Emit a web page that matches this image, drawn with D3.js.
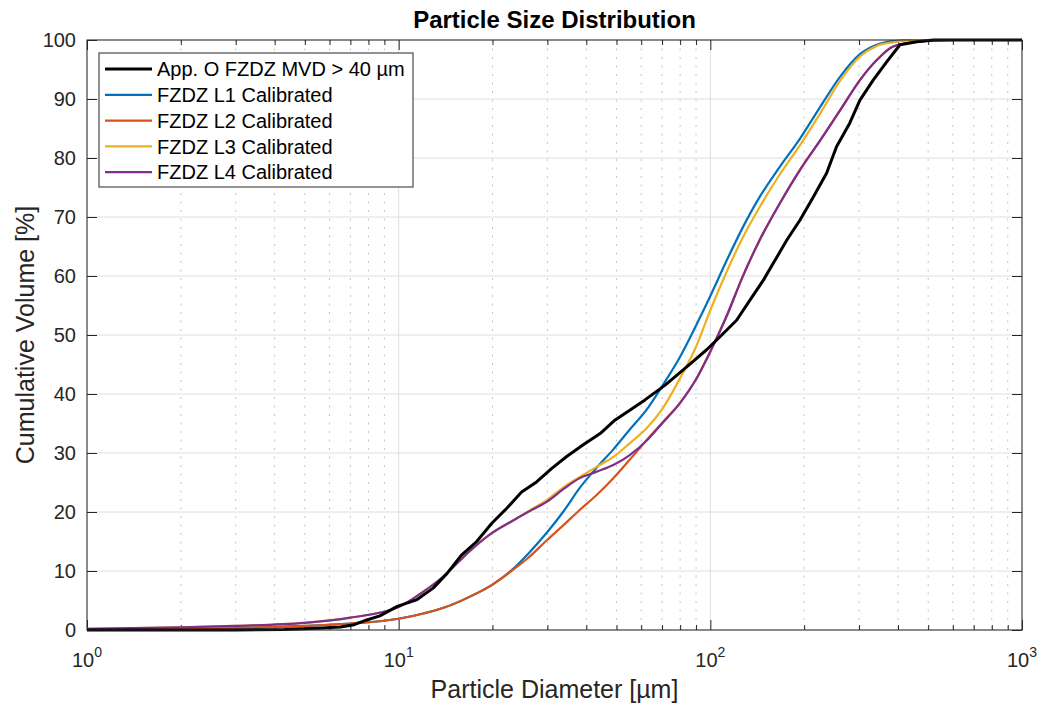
<!DOCTYPE html>
<html>
<head>
<meta charset="utf-8">
<script src="https://cdn.jsdelivr.net/npm/d3@7"></script>
<style>
  body { margin: 0; background: #fff; }
  text { font-family: "Liberation Sans", Arial, Helvetica, sans-serif; fill: #262626; }
</style>
</head>
<body>
<div id="chart"></div>
<script>
// measured curve (App. O) -- diameter [um] and cumulative volume [%]
var appODiam = [1, 3, 4.3, 5.5, 6.5, 7.2, 7.9, 8.7, 9.9, 11.4, 12.9, 14.3, 15.9, 17.8, 19.9, 22.2, 24.8, 27.7, 31.0, 34.6, 39.1, 44.3, 49.5, 55.3, 61.7, 71.6, 84, 97.3, 107.4, 121.4, 134, 148, 159, 176, 194, 214, 236, 254, 280, 302, 333, 368, 406, 460, 520, 1000];
var appOCum = [0, 0, 0.1, 0.3, 0.5, 0.9, 1.7, 2.4, 4.0, 5.1, 7.1, 9.6, 12.7, 15.0, 18.1, 20.6, 23.4, 25.1, 27.4, 29.4, 31.4, 33.3, 35.6, 37.3, 39.0, 41.5, 44.6, 47.5, 49.7, 52.5, 55.9, 59.3, 62.1, 66.1, 69.5, 73.4, 77.4, 81.9, 85.9, 89.8, 93.2, 96.3, 99.2, 99.7, 100, 100];

// calibrated curves share one diameter grid
var calDiam = [1, 2, 3, 5, 7, 10, 12, 14, 17, 20, 23, 26, 30, 34, 38, 43, 49, 55, 63, 70, 80, 90, 100, 113, 127, 144, 167, 194, 226, 261, 302, 342, 386, 460, 600, 1000];
var l1Cum = [0.15, 0.25, 0.4, 0.7, 1.1, 1.9, 2.8, 3.8, 5.7, 7.7, 10.1, 12.9, 16.6, 20.3, 24.0, 27.4, 30.7, 33.9, 37.6, 41.3, 46.3, 51.6, 56.6, 62.7, 68.2, 73.4, 78.5, 83.3, 88.8, 93.8, 97.6, 99.2, 99.8, 100, 100, 100];
var l2Cum = [0.15, 0.25, 0.4, 0.7, 1.1, 1.9, 2.8, 3.8, 5.7, 7.7, 10.0, 12.2, 15.3, 17.9, 20.3, 22.8, 25.8, 28.8, 32.4, 35.1, 38.5, 42.5, 47.2, 53.3, 59.9, 66.1, 72.3, 78.0, 83.1, 88.1, 93.2, 96.6, 98.9, 99.7, 100, 100];
var l3Cum = [0.2, 0.45, 0.7, 1.2, 2.1, 3.9, 6.5, 9.2, 13.5, 16.5, 18.4, 20.1, 22.1, 24.3, 25.9, 27.6, 29.4, 31.6, 34.4, 37.4, 42.7, 48.0, 54.2, 60.8, 66.5, 71.7, 77.2, 82.2, 87.7, 93.1, 97.2, 99.0, 99.6, 100, 100, 100];
var l4Cum = [0.2, 0.45, 0.7, 1.2, 2.1, 3.9, 6.5, 9.2, 13.5, 16.5, 18.4, 20.0, 21.8, 24.0, 25.7, 26.8, 28.0, 29.6, 32.3, 35.0, 38.5, 42.5, 47.2, 53.3, 59.9, 66.1, 72.3, 78.0, 83.1, 88.1, 93.2, 96.6, 98.9, 99.7, 100, 100];

var seriesNames = ["App. O FZDZ MVD > 40 \u00b5m", "FZDZ L1 Calibrated", "FZDZ L2 Calibrated", "FZDZ L3 Calibrated", "FZDZ L4 Calibrated"];
var seriesColors = ["#000000", "#0072BD", "#D95319", "#EDB120", "#7E2F8E"];
var xMajorTicks = [1, 10, 100, 1000];
var xTickExp = ["0", "1", "2", "3"];
var yTicks = [0, 10, 20, 30, 40, 50, 60, 70, 80, 90, 100];

var W = 1046, H = 708;
var margin = { top: 40, right: 24, bottom: 78, left: 87 };
var iW = W - margin.left - margin.right;
var iH = H - margin.top - margin.bottom;
var axisColor = "#262626";

var svg = d3.select("#chart").append("svg")
  .attr("width", W).attr("height", H);
var g = svg.append("g").attr("transform", "translate(" + margin.left + "," + margin.top + ")");

var x = d3.scaleLog().domain([1, 1000]).range([0, iW]);
var y = d3.scaleLinear().domain([0, 100]).range([iH, 0]);

// minor decade values 2..9
var xMinorTicks = [];
[1, 10, 100].forEach(function (d) {
  for (var k = 2; k <= 9; k++) xMinorTicks.push(d * k);
});

// Grid
g.append("g").selectAll("line").data(xMinorTicks).join("line")
  .attr("x1", function (d) { return x(d); }).attr("x2", function (d) { return x(d); })
  .attr("y1", 0).attr("y2", iH)
  .attr("stroke", "#c4c4c4").attr("stroke-width", 1)
  .attr("stroke-dasharray", "2,6.5");
g.append("g").selectAll("line").data(xMajorTicks).join("line")
  .attr("x1", function (d) { return x(d); }).attr("x2", function (d) { return x(d); })
  .attr("y1", 0).attr("y2", iH)
  .attr("stroke", "#dedede").attr("stroke-width", 1);
g.append("g").selectAll("line").data(yTicks).join("line")
  .attr("x1", 0).attr("x2", iW)
  .attr("y1", function (d) { return y(d); }).attr("y2", function (d) { return y(d); })
  .attr("stroke", "#dedede").attr("stroke-width", 1);

// Axes with inward ticks on all four sides
function styleAxis(sel) {
  sel.select(".domain").remove();
  sel.selectAll("text").remove();
  sel.selectAll("line").attr("stroke", axisColor).attr("stroke-width", 1);
}
g.append("g").attr("transform", "translate(0," + iH + ")")
  .call(d3.axisBottom(x).tickValues(xMajorTicks).tickSize(-10).tickFormat("")).call(styleAxis);
g.append("g").attr("transform", "translate(0," + iH + ")")
  .call(d3.axisBottom(x).tickValues(xMinorTicks).tickSize(-5).tickFormat("")).call(styleAxis);
g.append("g")
  .call(d3.axisTop(x).tickValues(xMajorTicks).tickSize(-10).tickFormat("")).call(styleAxis);
g.append("g")
  .call(d3.axisTop(x).tickValues(xMinorTicks).tickSize(-5).tickFormat("")).call(styleAxis);
g.append("g")
  .call(d3.axisLeft(y).tickValues(yTicks).tickSize(-10).tickFormat("")).call(styleAxis);
g.append("g").attr("transform", "translate(" + iW + ",0)")
  .call(d3.axisRight(y).tickValues(yTicks).tickSize(-10).tickFormat("")).call(styleAxis);

// Tick labels
g.append("g").selectAll("text").data(yTicks).join("text")
  .attr("x", -11).attr("y", function (d) { return y(d); })
  .attr("dy", "0.36em").attr("text-anchor", "end")
  .style("font-size", "20px")
  .text(function (d) { return d; });

var xl = g.append("g").selectAll("text").data(xMajorTicks).join("text")
  .attr("x", function (d) { return x(d); }).attr("y", iH + 37)
  .attr("text-anchor", "middle")
  .style("font-size", "20px");
xl.append("tspan").text("10");
xl.append("tspan").attr("dy", -10).style("font-size", "14px")
  .text(function (d, i) { return xTickExp[i]; });

// Lines
var lineGen = d3.line()
  .x(function (d) { return x(d[0]); })
  .y(function (d) { return y(d[1]); })
  .curve(d3.curveMonotoneX);

var calSeries = [l1Cum, l2Cum, l3Cum, l4Cum];
calSeries.forEach(function (vals, i) {
  g.append("path")
    .datum(calDiam.map(function (d, j) { return [d, vals[j]]; }))
    .attr("fill", "none")
    .attr("stroke", seriesColors[i + 1])
    .attr("stroke-width", 2.2)
    .attr("stroke-linejoin", "round")
    .attr("d", lineGen);
});

g.append("path")
  .datum(appODiam.map(function (d, j) { return [d, appOCum[j]]; }))
  .attr("fill", "none")
  .attr("stroke", seriesColors[0])
  .attr("stroke-width", 3)
  .attr("stroke-linejoin", "round")
  .attr("d", lineGen.curve(d3.curveLinear));

// Axes box
g.append("rect")
  .attr("width", iW).attr("height", iH)
  .attr("fill", "none").attr("stroke", axisColor).attr("stroke-width", 1);

// Legend
var leg = g.append("g").attr("transform", "translate(12,13)");
leg.append("rect")
  .attr("width", 314).attr("height", 134)
  .attr("fill", "#fff").attr("stroke", axisColor).attr("stroke-width", 1);
seriesNames.forEach(function (name, i) {
  var yy = 16 + i * 25.8;
  leg.append("line")
    .attr("x1", 6).attr("x2", 53).attr("y1", yy).attr("y2", yy)
    .attr("stroke", seriesColors[i]).attr("stroke-width", i === 0 ? 3 : 2.2);
  leg.append("text")
    .attr("x", 58).attr("y", yy).attr("dy", "0.36em")
    .style("font-size", "20px").style("fill", "#000")
    .text(name);
});

// Title and axis labels
svg.append("text")
  .attr("x", margin.left + iW / 2).attr("y", 28)
  .attr("text-anchor", "middle")
  .style("font-size", "24px").style("font-weight", "bold").style("fill", "#000")
  .text("Particle Size Distribution");
svg.append("text")
  .attr("x", margin.left + iW / 2).attr("y", 698)
  .attr("text-anchor", "middle")
  .style("font-size", "25px")
  .text("Particle Diameter [\u00b5m]");
svg.append("text")
  .attr("transform", "translate(34," + (margin.top + iH / 2) + ") rotate(-90)")
  .attr("text-anchor", "middle")
  .style("font-size", "25px")
  .text("Cumulative Volume [%]");
</script>
</body>
</html>
